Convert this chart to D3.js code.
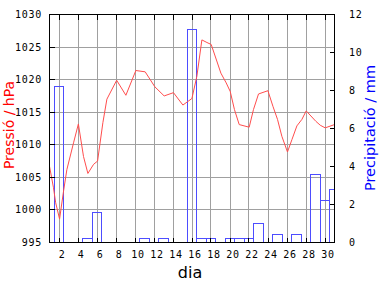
<!DOCTYPE html>
<html>
<head>
<meta charset="utf-8">
<script src="https://cdn.jsdelivr.net/npm/d3@7"></script>
<style>
  body { margin: 0; background: #fff; }
  svg { display: block; }
  .tick-label { font-family: "DejaVu Sans Mono", monospace; font-size: 10px; letter-spacing: 0.7px; fill: #000; }
  .title { font-family: "DejaVu Sans", sans-serif; }
</style>
</head>
<body>
<svg class="main" width="384" height="288"></svg>
<script>
var svg = d3.select(".main");

var plotLeft = 49.5,
    plotRight = 334.5,
    plotTop = 14.5,
    plotBottom = 242.5;

// pressure readings (day of month, hPa)
var pressDays = [1, 1.42, 1.65, 2.06, 2.48, 2.83, 3.53, 4.04, 4.58, 5.04, 5.64, 6.06, 6.62, 7.04,
                 8.07, 9.04, 10.09, 11.07, 12.09, 13.07, 14.05, 15.04, 15.99, 16.51, 17.04, 17.57,
                 18.02, 19.04, 19.6, 20.02, 20.47, 20.97, 22.02, 22.47, 23.0, 23.99, 24.52, 25.0,
                 25.46, 26.05, 26.52, 27.04, 27.57, 28.02, 29.04, 29.5, 30.02, 31];
var pressVals = [1006.7, 1003.4, 1001.1, 998.6, 1002.9, 1006.2, 1010.3, 1013.2, 1008.2, 1005.6, 1007.0, 1007.5, 1013.4, 1017.0,
                 1019.9, 1017.6, 1021.4, 1021.2, 1018.9, 1017.5, 1018.0, 1016.1, 1017.1, 1020.5, 1026.1, 1025.7,
                 1025.4, 1021.0, 1019.5, 1018.2, 1015.4, 1013.1, 1012.7, 1015.4, 1017.8, 1018.3, 1015.9, 1013.9,
                 1011.3, 1008.9, 1010.8, 1012.9, 1013.9, 1015.2, 1013.6, 1013.0, 1012.6, 1013.1];

// daily precipitation (mm), boxes centred on the day
var rainDays = [2, 5, 6, 11, 13, 16, 17, 18, 20, 21, 22, 23, 25, 27, 29, 30, 31];
var rainVals = [8.2, 0.2, 1.6, 0.2, 0.2, 11.2, 0.2, 0.2, 0.2, 0.2, 0.2, 1.0, 0.4, 0.4, 3.6, 2.2, 2.8];

var xTicks = d3.range(2, 31, 2);
var yTicks = [995, 1000, 1005, 1010, 1015, 1020, 1025, 1030];
var y2Ticks = [0, 2, 4, 6, 8, 10, 12];

var x = d3.scaleLinear().domain([1, 31]).range([plotLeft, plotRight]),
    y = d3.scaleLinear().domain([995, 1030]).range([plotBottom, plotTop]),
    y2 = d3.scaleLinear().domain([0, 12]).range([plotBottom, plotTop]);

function px(v) { return Math.round(v - 0.5) + 0.5; }

svg.append("defs").append("clipPath").attr("id", "plot")
    .append("rect")
    .attr("x", plotLeft).attr("y", plotTop)
    .attr("width", plotRight - plotLeft).attr("height", plotBottom - plotTop);

// grid
var grid = svg.append("g")
    .attr("stroke", "#a0a0a0")
    .attr("shape-rendering", "crispEdges");
grid.selectAll("line.v").data(xTicks).enter().append("line")
    .attr("x1", function(d) { return px(x(d)); })
    .attr("x2", function(d) { return px(x(d)); })
    .attr("y1", plotTop).attr("y2", plotBottom);
grid.selectAll("line.h").data(yTicks.slice(1, -1)).enter().append("line")
    .attr("x1", plotLeft).attr("x2", plotRight)
    .attr("y1", function(d) { return px(y(d)); })
    .attr("y2", function(d) { return px(y(d)); });

// precipitation boxes
var plot = svg.append("g").attr("clip-path", "url(#plot)");
plot.selectAll("rect.bar").data(rainDays).enter().append("rect")
    .attr("x", function(d) { return px(x(d - 0.5)); })
    .attr("width", function(d) { return px(x(d + 0.5)) - px(x(d - 0.5)); })
    .attr("y", function(d, i) { return px(y2(rainVals[i])); })
    .attr("height", function(d, i) { return px(plotBottom) - px(y2(rainVals[i])); })
    .attr("fill", "none")
    .attr("stroke", "#4d4dff")
    .attr("shape-rendering", "crispEdges");

// pressure line
var line = d3.line()
    .x(function(d) { return x(d); })
    .y(function(d, i) { return y(pressVals[i]); });
plot.append("path")
    .datum(pressDays)
    .attr("d", line)
    .attr("fill", "none")
    .attr("stroke", "#ff4d4d")
    .attr("stroke-width", 1);

// frame and ticks
var frame = svg.append("g")
    .attr("stroke", "#000")
    .attr("shape-rendering", "crispEdges");
frame.append("rect")
    .attr("x", plotLeft).attr("y", plotTop)
    .attr("width", plotRight - plotLeft).attr("height", plotBottom - plotTop)
    .attr("fill", "none");
frame.selectAll("line.xb").data(xTicks).enter().append("line")
    .attr("x1", function(d) { return px(x(d)); })
    .attr("x2", function(d) { return px(x(d)); })
    .attr("y1", plotBottom).attr("y2", plotBottom - 5);
frame.selectAll("line.xt").data(xTicks).enter().append("line")
    .attr("x1", function(d) { return px(x(d)); })
    .attr("x2", function(d) { return px(x(d)); })
    .attr("y1", plotTop).attr("y2", plotTop + 5);
frame.selectAll("line.yl").data(yTicks).enter().append("line")
    .attr("x1", plotLeft).attr("x2", plotLeft + 5)
    .attr("y1", function(d) { return px(y(d)); })
    .attr("y2", function(d) { return px(y(d)); });
frame.selectAll("line.yr").data(y2Ticks).enter().append("line")
    .attr("x1", plotRight).attr("x2", plotRight - 5)
    .attr("y1", function(d) { return px(y2(d)); })
    .attr("y2", function(d) { return px(y2(d)); });

// tick labels
svg.append("g").selectAll("text").data(xTicks).enter().append("text")
    .attr("class", "tick-label")
    .attr("x", function(d) { return x(d) + 3; })
    .attr("y", 258)
    .attr("text-anchor", "middle")
    .text(function(d) { return d; });
svg.append("g").selectAll("text").data(yTicks).enter().append("text")
    .attr("class", "tick-label")
    .attr("x", 42)
    .attr("y", function(d) { return y(d) + 3.5; })
    .attr("text-anchor", "end")
    .text(function(d) { return d; });
svg.append("g").selectAll("text").data(y2Ticks).enter().append("text")
    .attr("class", "tick-label")
    .attr("x", 349)
    .attr("y", function(d) { return y2(d) + 3.5; })
    .attr("text-anchor", "start")
    .text(function(d) { return d; });

// axis titles
svg.append("text")
    .attr("class", "title")
    .attr("transform", "translate(13.5,125) rotate(-90)")
    .attr("text-anchor", "middle")
    .attr("font-size", "14px")
    .attr("fill", "#ff0000")
    .text("Pressió / hPa");
svg.append("text")
    .attr("class", "title")
    .attr("transform", "translate(375,128) rotate(-90)")
    .attr("text-anchor", "middle")
    .attr("font-size", "14.5px")
    .attr("fill", "#0000ff")
    .text("Precipitació / mm");
svg.append("text")
    .attr("class", "title")
    .attr("x", 190)
    .attr("y", 278)
    .attr("text-anchor", "middle")
    .attr("font-size", "16px")
    .attr("fill", "#000")
    .text("dia");
</script>
</body>
</html>
